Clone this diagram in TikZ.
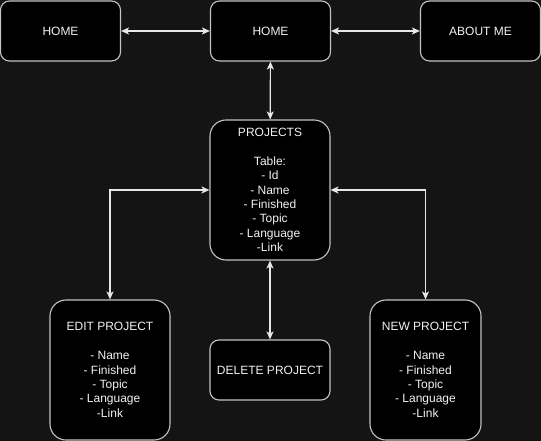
\documentclass[tikz,border=0pt]{standalone}
\usepackage{fontspec}
\setmainfont{Liberation Sans}
\usetikzlibrary{arrows.meta,positioning}
\definecolor{fond}{HTML}{141414}
\definecolor{bord}{HTML}{C4C4C4}
\definecolor{fleche}{HTML}{E8E8E8}
\definecolor{texte}{HTML}{F2F2F2}
\tikzset{page/.style={draw=bord,fill=black,text=texte,line width=1.1pt,
    align=center,font=\fontsize{12}{14.4}\selectfont,inner sep=0pt},
  lien/.style={draw=fleche,line width=1.2pt,
    {Stealth[length=8pt,width=7pt,inset=2pt]}-{Stealth[length=8pt,width=7pt,inset=2pt]}}}

\begin{document}
\begin{tikzpicture}[x=1pt,y=-1pt]%
        \path[use as bounding box,fill=fond] (0,0) rectangle (541,441);%%
        \begin{scope}
        \tikzstyle{every node}=[page,minimum width=120pt,minimum height=60pt,rounded corners=9pt] %%
        \node (home1) at (60.5,31)  {HOME}; %%
        \node (home2) at (270.5,31)  {HOME}; %%
        \node (about) at (480.5,31)  {ABOUT ME}; %%
        \node (del) at (270,370)  {DELETE PROJECT}; %%
        \end{scope}
        \begin{scope}
        \tikzstyle{every node}=[page,minimum height=140pt,rounded corners=16pt] %%
        \node[minimum width=120pt] (proj) at (270,190)  {PROJECTS\\[14.4pt]Table:\\- Id\\- Name\\- Finished\\- Topic\\- Language\\-Link}; %%
        \node[minimum width=120pt] (edit) at (110,370)  {EDIT PROJECT\\[14.4pt]- Name\\- Finished\\- Topic\\- Language\\-Link}; %%
        \node[minimum width=111pt] (new) at (425.5,370)  {NEW PROJECT\\[14.4pt]- Name\\- Finished\\- Topic\\- Language\\-Link}; %%
        \end{scope}
        \draw[lien] (home1)--(home2);  %%
        \draw[lien] (home2)--(about);  %%
        \draw[lien] (home2)--(proj);  %%
        \draw[lien] (proj)--(del);  %%
        \draw[lien] (proj)-|(edit);  %%
        \draw[lien] (proj)-|(new);  %%
\end{tikzpicture}
\end{document}
